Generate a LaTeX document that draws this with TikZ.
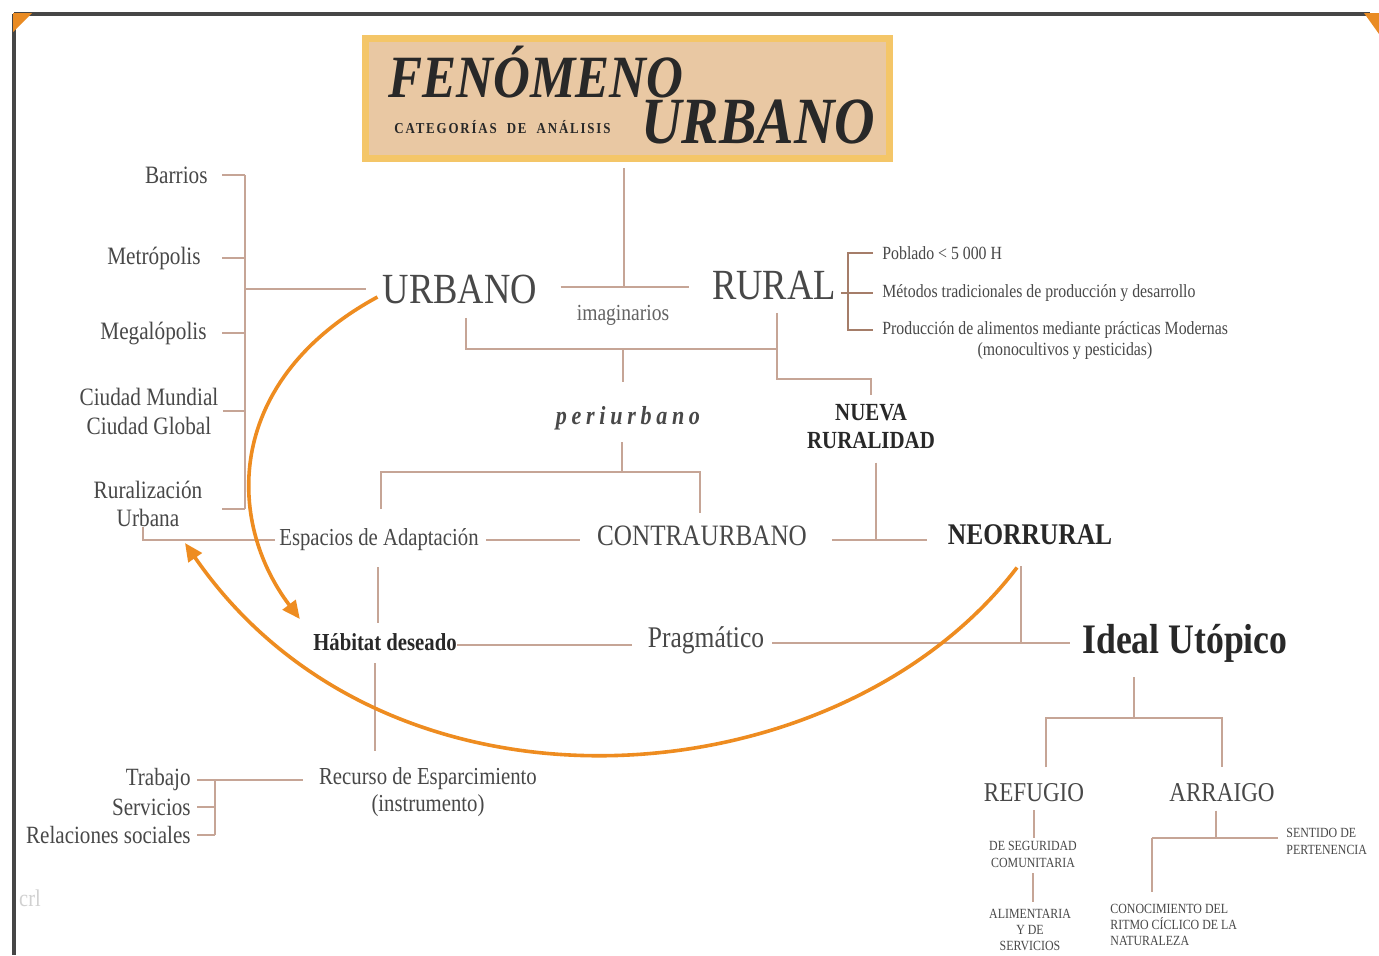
\documentclass[tikz,border=0pt]{standalone}
\usepackage{fontspec}
\setmainfont{Liberation Serif}[FakeStretch=0.85]
\usetikzlibrary{arrows.meta}
\definecolor{txtc}{RGB}{72,72,72}
\definecolor{darkc}{RGB}{40,40,40}
\definecolor{lnc}{RGB}{198,165,150}
\definecolor{lndc}{RGB}{165,125,105}
\definecolor{orc}{RGB}{238,140,32}
\definecolor{tfill}{RGB}{233,200,163}
\definecolor{tborder}{RGB}{244,198,104}
\definecolor{framec}{RGB}{70,70,70}
\newcommand\fsz[2]{\fontsize{#1}{#2}\selectfont}
\tikzset{
  txt/.style={inner sep=0pt, text=txtc},
  ln/.style={draw=lnc, line width=0.8pt},
  lnd/.style={draw=lndc, line width=1.3pt},
  oarr/.style={draw=orc, line width=1.8pt, -{Triangle[length=9pt,width=8pt]}},
}
\begin{document}
\begin{tikzpicture}[x=0.5pt,y=-0.5pt]
\useasboundingbox (0,0) rectangle (1379,955);
\fill[white] (0,0) rectangle (1379,955);
% frame
\draw[framec, line width=1.6pt] (14,14) -- (1370,14);
\draw[framec, line width=1.6pt] (14,14) -- (14,955);
\fill[orc!90!brown] (13,13) -- (32,13) -- (13,32) -- cycle;
\fill[orc!90!brown] (1364,13) -- (1379,13) -- (1379,34) -- cycle;

% title
\node[draw=tborder, fill=tfill, line width=3.5pt, minimum width=262pt, minimum height=60pt, inner sep=0pt] (title) at (627.5,98.5) {};
\node[txt, anchor=base west, text=darkc, font=\fsz{30}{32}\bfseries\itshape] (fen) at (388,97) {FENÓMENO};
\node[txt, anchor=base west, text=darkc, font=\fsz{33}{35}\bfseries\itshape] (urbt) at (641,143) {URBANO};
\node[txt, anchor=base west, text=darkc, font=\fsz{7.6}{8}\bfseries\addfontfeatures{LetterSpace=12}] (cat) at (394,133) {CATEGORÍAS\ \ DE\ \ ANÁLISIS};

% main nodes
\node[txt, font=\fsz{21.5}{24}] (urbano) at (460,289) {URBANO};
\node[txt, font=\fsz{21.5}{24}] (rural) at (774,286) {RURAL};
\node[txt, font=\fsz{11.5}{14}, text=txtc!85] (imag) at (623,315) {imaginarios};
\node[txt, font=\fsz{13}{15}\bfseries\itshape\addfontfeatures{LetterSpace=18}] (peri) at (628,418) {periurbano};
\node[txt, align=center, text=darkc, font=\fsz{12.3}{14}\bfseries] (nueva) at (871,426) {NUEVA\\RURALIDAD};
\node[txt, font=\fsz{12.2}{14}] (espacios) at (379,540) {Espacios de Adaptación};
\node[txt, font=\fsz{14.8}{17}] (contra) at (702,536) {CONTRAURBANO};
\node[txt, text=darkc, font=\fsz{15}{17}\bfseries] (neo) at (1030,535) {NEORRURAL};
\node[txt, text=darkc, font=\fsz{12.2}{14}\bfseries] (habitat) at (385,642) {Hábitat deseado};
\node[txt, font=\fsz{15}{17}] (prag) at (706,640) {Pragmático};
\node[txt, text=darkc, font=\fsz{21}{23}\bfseries] (ideal) at (1185,643) {Ideal Utópico};
\node[txt, align=center, font=\fsz{12.2}{13.5}] (recurso) at (428,792) {Recurso de Esparcimiento\\(instrumento)};

% left list
\node[txt, anchor=east, font=\fsz{12.5}{14}] (barrios) at (208,175) {Barrios};
\node[txt, anchor=east, font=\fsz{12.5}{14}] (metro) at (201,258) {Metrópolis};
\node[txt, anchor=east, font=\fsz{12.5}{14}] (mega) at (207,333) {Megalópolis};
\node[txt, align=center, font=\fsz{12.5}{14.5}] (ciudad) at (149,411) {Ciudad Mundial\\Ciudad Global};
\node[txt, align=center, font=\fsz{12.5}{14}] (rurb) at (148,504) {Ruralización\\Urbana};

% rural list
\node[txt, anchor=west, font=\fsz{9.3}{11}] (pob) at (882,253) {Poblado < 5 000 H};
\node[txt, anchor=west, font=\fsz{9.3}{11}] (met) at (882,293) {Métodos tradicionales de producción y desarrollo};
\node[txt, anchor=west, font=\fsz{9.3}{11}] (prod) at (882,330) {Producción de alimentos mediante prácticas Modernas};
\node[txt, font=\fsz{9.3}{11}] (mono) at (1065,351) {(monocultivos y pesticidas)};

% bottom left list
\node[txt, anchor=east, font=\fsz{12.4}{14}] (trab) at (191,780) {Trabajo};
\node[txt, anchor=east, font=\fsz{12.4}{14}] (serv) at (191,807) {Servicios};
\node[txt, anchor=east, font=\fsz{12.4}{14}] (rel) at (191,835) {Relaciones sociales};

% bottom right
\node[txt, font=\fsz{13.6}{15}] (refugio) at (1034,793) {REFUGIO};
\node[txt, font=\fsz{13.6}{15}] (arraigo) at (1222,793) {ARRAIGO};
\node[txt, align=center, font=\fsz{7}{8.5}] (seg) at (1033,854) {DE SEGURIDAD\\COMUNITARIA};
\node[txt, align=center, font=\fsz{7}{8.2}] (alim) at (1030,930) {ALIMENTARIA\\Y DE\\SERVICIOS};
\node[txt, align=left, anchor=west, font=\fsz{7}{8.5}] (sent) at (1286,841) {SENTIDO DE\\PERTENENCIA};
\node[txt, align=left, anchor=west, font=\fsz{7}{8.2}] (conoc) at (1110,925) {CONOCIMIENTO DEL\\RITMO CÍCLICO DE LA\\NATURALEZA};
\node[txt, text=black!18, font=\fsz{12}{14}] (crl) at (30,898) {crl};

% coordinates
\coordinate (j1) at (624,287);
\coordinate (ls) at (245,175);
\coordinate (lb) at (245,509);
\coordinate (h1) at (466,349);
\coordinate (h2) at (777,349);
\coordinate (pc) at (623,349);
\coordinate (nr) at (777,379);
\coordinate (pb) at (622,472);
\coordinate (pl) at (381,472);
\coordinate (pr) at (700,472);
\coordinate (nv) at (876,540);
\coordinate (hx) at (378,600);
\coordinate (hy) at (500,645);
\coordinate (nx) at (1021,643);
\coordinate (hx2) at (375,700);
\coordinate (rs) at (215,780);
\coordinate (ix) at (1134,718);
\coordinate (il) at (1046,718);
\coordinate (ir) at (1222,718);
\coordinate (ax) at (1216,838);
\coordinate (ck) at (1152,838);
\coordinate (rb) at (848,293);
\coordinate (ub) at (143,527);
\coordinate (ua) at (185,543);
\coordinate (s1) at (1034,810);
\coordinate (s2) at (1034,838);
\coordinate (s3) at (1033,873);
\coordinate (s4) at (1033,902);

% title / urbano / rural
\draw[ln] ([yshift=-3pt]j1 |- title.south) -- (j1);
\draw[ln] ([xshift=11.5pt]urbano.east |- j1) -- ([xshift=-11.5pt]rural.west |- j1);
% left bracket
\draw[ln] (ls) -- (lb);
\draw[ln] ([xshift=7pt]barrios.east) -- (barrios.east -| ls);
\draw[ln] ([xshift=10.5pt]metro.east) -- (metro.east -| ls);
\draw[ln] ([xshift=7.5pt]mega.east) -- (mega.east -| ls);
\draw[ln] ([xshift=2pt]ciudad.east) -- (ciudad.east -| ls);
\draw[ln] ([xshift=-11.5pt]lb) -- (lb);
\draw[ln] (urbano.west -| ls) -- ([xshift=-8pt]urbano.west);
\draw[ln] (ub) |- ([xshift=-2pt]espacios.west);
% rural bracket
\draw[lnd] ([xshift=2.5pt]rural.east |- rb) -- (rb);
\draw[lnd] ([xshift=-4.5pt]pob.west) -| (rb |- prod.west) -- ([xshift=-4.5pt]prod.west);
\draw[lnd] (rb) -- ([xshift=-4.5pt]met.west);
% urbano/rural to periurbano & nueva ruralidad
\draw[ln] ([yshift=-7pt]urbano.south -| h1) -- (h1) -- (h2);
\draw[ln] ([yshift=-6pt]rural.south -| nr) -- (nr) -| ([yshift=4pt]nueva.north);
\draw[ln] (pc) -- ([yshift=12pt]peri.north -| pc);
\draw[ln] ([yshift=-6pt]peri.south -| pb) -- (pb);
\draw[ln] ([yshift=10pt]espacios.north -| pl) -- (pl) -- (pr) -- ([yshift=6.5pt]contra.north -| pr);
% row of espacios
\draw[ln] ([xshift=3.5pt]espacios.east) -- ([xshift=-8.5pt]contra.west |- espacios.east);
\draw[ln] ([xshift=12.5pt]contra.east |- nv) -- ([xshift=-10pt]neo.west |- nv);
\draw[ln] ([yshift=-7pt]nueva.south -| nv) -- (nv);
% habitat row
\draw[ln] ([yshift=-8pt]espacios.south -| hx) -- ([yshift=5pt]habitat.north -| hx);
\draw[ln] (habitat.east |- hy) -- ([xshift=-8pt]prag.west |- hy);
\draw[ln] ([xshift=4pt]prag.east |- nx) -- ([xshift=-6pt]ideal.west |- nx);
\draw[ln] ([yshift=-10.5pt]neo.south -| nx) -- (nx);
% recurso
\draw[ln] ([yshift=-6pt]habitat.south -| hx2) -- ([yshift=8pt]recurso.north -| hx2);
\draw[ln] ([xshift=-8pt]recurso.west |- rs) -- (rs) -- (rs |- rel.east);
\draw[ln] ([xshift=3pt]trab.east) -- (trab.east -| rs);
\draw[ln] ([xshift=3pt]serv.east) -- (serv.east -| rs);
\draw[ln] ([xshift=3pt]rel.east) -- (rel.east -| rs);
% ideal
\draw[ln] ([yshift=-7.5pt]ideal.south -| ix) -- (ix);
\draw[ln] ([yshift=8pt]refugio.north -| il) -- (il) -- (ir) -- ([yshift=8pt]arraigo.north -| ir);
\draw[ln] (s1) -- (s2);
\draw[ln] (s3) -- (s4);
\draw[ln] ([yshift=-4pt]arraigo.south -| ax) -- (ax);
\draw[ln] (ck) -- ([xshift=-4pt]sent.west |- ck);
\draw[ln] (ck) -- ([yshift=6pt]conoc.north -| ck);

% orange arrows
\draw[oarr] ([shift={(-2.5pt,-4pt)}]urbano.west) .. controls (225,380) and (225,520) .. ([shift={(-6.5pt,7pt)}]habitat.north west);
\draw[oarr] ([shift={(-6.5pt,-11pt)}]neo.south) .. controls (840,800) and (390,840) .. (ua);
\end{tikzpicture}
\end{document}
